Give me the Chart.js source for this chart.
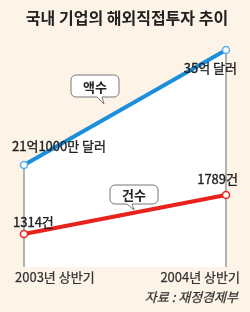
<!DOCTYPE html>
<html>
<head>
<meta charset="utf-8">
<script src="https://cdn.jsdelivr.net/npm/chart.js@4"></script>
<style>
  html, body { margin: 0; padding: 0; background: #fdf3e6; }
  #wrap { width: 250px; height: 312px; position: relative; }
</style>
</head>
<body>
<div id="wrap"><canvas id="chart" width="250" height="312"></canvas></div>
<script>
// 데이터
const periods = ['2003년 상반기', '2004년 상반기'];
const amountValues = [21.1, 35];        // 억 달러
const countValues = [1314, 1789];       // 건
const amountLabels = ['21억1000만 달러', '35억 달러'];
const countLabels = ['1314건', '1789건'];
const chartTitle = '국내 기업의 해외직접투자 추이';
const sourceText = '자료 : 재정경제부';

const FONT = "'Noto Sans CJK KR', 'Noto Sans', sans-serif";
const BLUE = '#1b8fdc';
const RED = '#e8231d';

// 글자를 조금 두껍게 (원본 폰트 굵기 흉내)
function heavyText(ctx, text, x, y) {
    ctx.fillText(text, x, y);
    ctx.strokeText(text, x, y);
}

function callout(ctx, x, y, w, h, tip, tailX, text) {
    ctx.save();
    ctx.beginPath();
    const r = 5;
    ctx.moveTo(x + r, y);
    ctx.lineTo(x + w - r, y);
    ctx.arcTo(x + w, y, x + w, y + r, r);
    ctx.lineTo(x + w, y + h - r);
    ctx.arcTo(x + w, y + h, x + w - r, y + h, r);
    ctx.lineTo(tailX + 5, y + h);
    ctx.lineTo(tip[0], tip[1]);
    ctx.lineTo(tailX, y + h);
    ctx.lineTo(x + r, y + h);
    ctx.arcTo(x, y + h, x, y + h - r, r);
    ctx.lineTo(x, y + r);
    ctx.arcTo(x, y, x + r, y, r);
    ctx.closePath();
    ctx.fillStyle = '#fff';
    ctx.fill();
    ctx.strokeStyle = '#777';
    ctx.lineWidth = 1;
    ctx.stroke();
    ctx.fillStyle = '#222';
    ctx.font = 'bold 13px ' + FONT;
    ctx.textAlign = 'center';
    ctx.textBaseline = 'middle';
    ctx.fillText(text, x + w / 2, y + h / 2 + 1);
    ctx.restore();
}

const decor = {
    id: 'decor',
    beforeDatasetDraw(chart, args) {
        // 흰 영역 양쪽 세로선 (액수 선 아래)
        if (args.index !== 1) return;
        const ctx = chart.ctx;
        const pts = chart.getDatasetMeta(1).data;
        const bottom = chart.chartArea.bottom;
        ctx.save();
        ctx.strokeStyle = '#9a9a9a';
        ctx.lineWidth = 1.5;
        pts.forEach(p => {
            ctx.beginPath();
            ctx.moveTo(p.x, p.y);
            ctx.lineTo(p.x, bottom);
            ctx.stroke();
        });
        ctx.restore();
    },
    afterDraw(chart) {
        const ctx = chart.ctx;
        const blue = chart.getDatasetMeta(1).data;
        const red = chart.getDatasetMeta(0).data;
        const xs = chart.scales.x;
        ctx.save();
        ctx.fillStyle = '#222';
        ctx.strokeStyle = '#222';
        ctx.lineWidth = 0.35;
        ctx.textBaseline = 'middle';

        // 제목
        ctx.font = 'bold 16px ' + FONT;
        ctx.textAlign = 'center';
        ctx.fillText(chartTitle, 127, 18);

        // 값 라벨
        ctx.font = '13px ' + FONT;
        ctx.textAlign = 'left';
        heavyText(ctx, amountLabels[0], blue[0].x - 12, blue[0].y - 19);
        heavyText(ctx, countLabels[0], red[0].x - 11, red[0].y - 12);
        ctx.textAlign = 'right';
        heavyText(ctx, amountLabels[1], blue[1].x + 11, blue[1].y + 18);
        heavyText(ctx, countLabels[1], red[1].x + 12, red[1].y - 16);

        // x축 라벨
        ctx.fillStyle = '#333';
        ctx.strokeStyle = '#333';
        ctx.lineWidth = 0.25;
        ctx.textAlign = 'left';
        heavyText(ctx, periods[0], xs.getPixelForValue(0) - 9, 277);
        ctx.textAlign = 'right';
        heavyText(ctx, periods[1], xs.getPixelForValue(1) + 14, 277);

        // 출처
        ctx.font = 'italic 13px ' + FONT;
        heavyText(ctx, sourceText, 238, 297);
        ctx.restore();

        // 말풍선
        callout(ctx, 71, 75, 48, 22, [104, 104], 97, '액수');
        callout(ctx, 110, 185, 48, 19, [134, 210], 127, '건수');
    }
};

new Chart(document.getElementById('chart'), {
    type: 'line',
    data: {
        labels: periods,
        datasets: [
            {
                label: '건수',
                data: countValues,
                yAxisID: 'yCount',
                borderColor: RED,
                borderWidth: 4,
                pointRadius: 3.5,
                pointBorderWidth: 1.5,
                pointBackgroundColor: '#fff',
                pointBorderColor: RED,
                fill: false,
                clip: false
            },
            {
                label: '액수',
                data: amountValues,
                yAxisID: 'yAmount',
                borderColor: BLUE,
                borderWidth: 4,
                pointRadius: 3.5,
                pointBorderWidth: 1.5,
                pointBackgroundColor: '#fff',
                pointBorderColor: '#5ab0ea',
                fill: 'start',
                backgroundColor: '#ffffff',
                clip: false
            }
        ]
    },
    options: {
        responsive: false,
        animation: false,
        layout: { padding: { left: 24, right: 24, top: 50, bottom: 45 } },
        scales: {
            x: { display: false, offset: false },
            yAmount: { display: false, min: 8.77, max: 35 },
            yCount: { display: false, min: 912, max: 3555 }
        },
        plugins: {
            legend: { display: false },
            tooltip: { enabled: false }
        }
    },
    plugins: [decor]
});
</script>
</body>
</html>
